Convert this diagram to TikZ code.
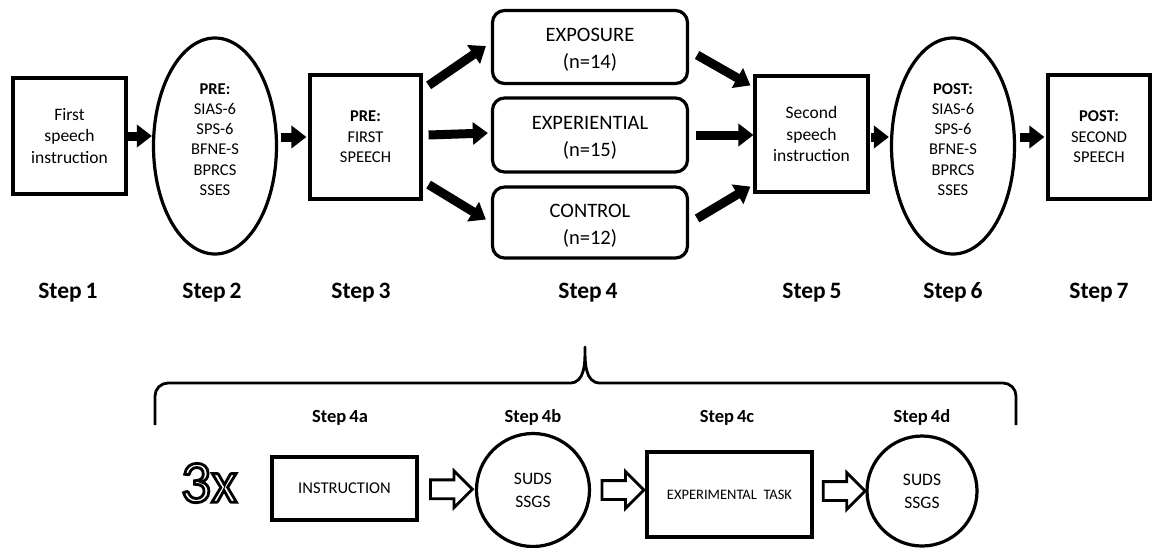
\documentclass[tikz,border=0pt]{standalone}
\usepackage{fontspec}
\setmainfont{Carlito}
\usetikzlibrary{arrows.meta,shapes.geometric,shapes.arrows,calc}
\newcommand{\lowtwo}[2]{\raisebox{-3pt}[\height][\depth]{\begin{tabular}{@{}c@{}}#1\\#2\end{tabular}}}
\begin{document}
\begin{tikzpicture}[x=1pt,y=-1pt,
  box/.style={draw,line width=3.2pt,align=center,inner sep=0pt,font=\fontsize{17.5}{21.5}\selectfont},
  ell/.style={draw,ellipse,line width=3.2pt,align=center,inner sep=0pt,minimum width=123pt,minimum height=216pt,font=\fontsize{16.5}{20.2}\selectfont},
  rbox/.style={draw,rounded corners=12pt,line width=3.2pt,align=center,minimum width=195pt,font=\fontsize{20.5}{27}\selectfont},
  fat/.style={line width=9pt,-{Triangle[length=15pt,width=22pt]}},
  steplab/.style={font=\bfseries\fontsize{23.5}{26}\selectfont,anchor=base},
  substep/.style={font=\bfseries\fontsize{18.5}{21}\selectfont,anchor=base},
  circ/.style={draw,circle,line width=3.2pt,align=center,inner sep=0pt,font=\fontsize{17.5}{23}\selectfont},
  hollow/.style={draw,single arrow,line width=2.8pt,inner sep=8pt,minimum height=42pt,single arrow head extend=9pt,single arrow tip angle=90}
]
\useasboundingbox (0,0) rectangle (1161,547);

% top row
\node[box,minimum width=113pt,minimum height=116pt] (b1) at (69.5,136) {First\\speech\\instruction};
\node[ell] (e2) at (215,146) {\textbf{PRE:}\\SIAS-6\\SPS-6\\BFNE-S\\BPRCS\\SSES\\[-7pt]};
\node[box,minimum width=111pt,minimum height=124pt,font=\fontsize{16.5}{20.5}\selectfont] (b3) at (365.5,137) {\textbf{PRE:}\\FIRST\\SPEECH};
\node[rbox,minimum height=73pt] (r1) at (590,47) {\lowtwo{EXPOSURE}{(n=14)}};
\node[rbox,minimum height=74pt] (r2) at (590,135) {\lowtwo{EXPERIENTIAL}{(n=15)}};
\node[rbox,minimum height=71pt] (r3) at (590,222.5) {\lowtwo{CONTROL}{(n=12)}};
\node[box,minimum width=113pt,minimum height=116pt] (b5) at (811.5,134) {Second\\speech\\instruction};
\node[ell] (e6) at (953,146) {\textbf{POST:}\\SIAS-6\\SPS-6\\BFNE-S\\BPRCS\\SSES\\[-7pt]};
\node[box,minimum width=102pt,minimum height=124pt,font=\fontsize{16.5}{20.5}\selectfont] (b7) at (1099,137) {\textbf{POST:}\\SECOND\\SPEECH};

% top arrows
\draw[fat] (b1.east) -- (e2.west|-b1.east);
\draw[fat] ($(e2.east|-b3.west)+(3,0)$) -- ($(b3.west)+(-2,0)$);
\draw[fat] ($(b3.north east)+(6,12)$) -- ($(r1.west)+(-5,-1)$);
\draw[fat] ($(b3.east)+(6,-2)$) -- ($(r2.west)+(-3,-2)$);
\draw[fat] ($(b3.south east)+(6,-16)$) -- ($(r3.west)+(-5,-3)$);
\draw[fat] ($(r1.east)+(8,8)$) -- ($(b5.north west)+(-3,11)$);
\draw[fat] ($(r2.east)+(7,0)$) -- (b5.west|-r2.east);
\draw[fat] ($(r3.east)+(8,-4)$) -- ($(b5.south west)+(-3,-7)$);
\draw[fat] ($(b5.east)+(1,3)$) -- ($(e6.west)+(-1,-9)$);
\draw[fat] ($(e6.east)+(4,-9)$) -- ($(b7.west)+(-2,0)$);

% step labels
\node[steplab] (s1) at (68,298) {Step\,1};
\node[steplab] (s2) at (212,298) {Step\,2};
\node[steplab] (s3) at (361,298) {Step\,3};
\node[steplab] (s4) at (588,298) {Step\,4};
\node[steplab] (s5) at (812,298) {Step\,5};
\node[steplab] (s6) at (953,298) {Step\,6};
\node[steplab] (s7) at (1099,298) {Step\,7};

% brace
\draw[line width=2.8pt,line join=round]
  (155,425) -- (155,396) to[out=90,in=180] (168,383) -- (570,383)
  to[out=0,in=-90] (585,347) to[out=-90,in=180] (600,383) -- (1003,383)
  to[out=0,in=90] (1016,396) -- (1016,425);

% bottom row
\node[font=\fontsize{60}{60}\selectfont,text=white,inner sep=0pt] (x3) at (209,483)
  {\special{pdf:literal direct 2 Tr 2.8 w 0 G}3x\special{pdf:literal direct 0 Tr}};
\node[substep] (s4a) at (340,422) {Step\,4a};
\node[substep] (s4b) at (533,422) {Step\,4b};
\node[substep] (s4c) at (727,422) {Step\,4c};
\node[substep] (s4d) at (922,422) {Step\,4d};
\node[box,minimum width=145pt,minimum height=63pt,font=\fontsize{16.5}{18}\selectfont] (i4a) at (344.5,488.5) {INSTRUCTION};
\node[circ,minimum size=113pt] (c4b) at (533,490) {SUDS\\SSGS};
\node[box,minimum width=165pt,minimum height=85pt,font=\fontsize{14.5}{16}\selectfont] (t4c) at (729.5,494.5) {EXPERIMENTAL\ \ TASK};
\node[circ,minimum size=110pt] (c4d) at (922,491) {SUDS\\SSGS};
\node[hollow] (h1) at ($(i4a.east)!0.5!(c4b.west)$) {};
\node[hollow] (h2) at ($(c4b.east|-c4b.center)!0.5!(t4c.west|-c4b.center)$) {};
\node[hollow] (h3) at ($(t4c.east|-c4d.center)!0.5!(c4d.west)$) {};
\end{tikzpicture}
\end{document}
